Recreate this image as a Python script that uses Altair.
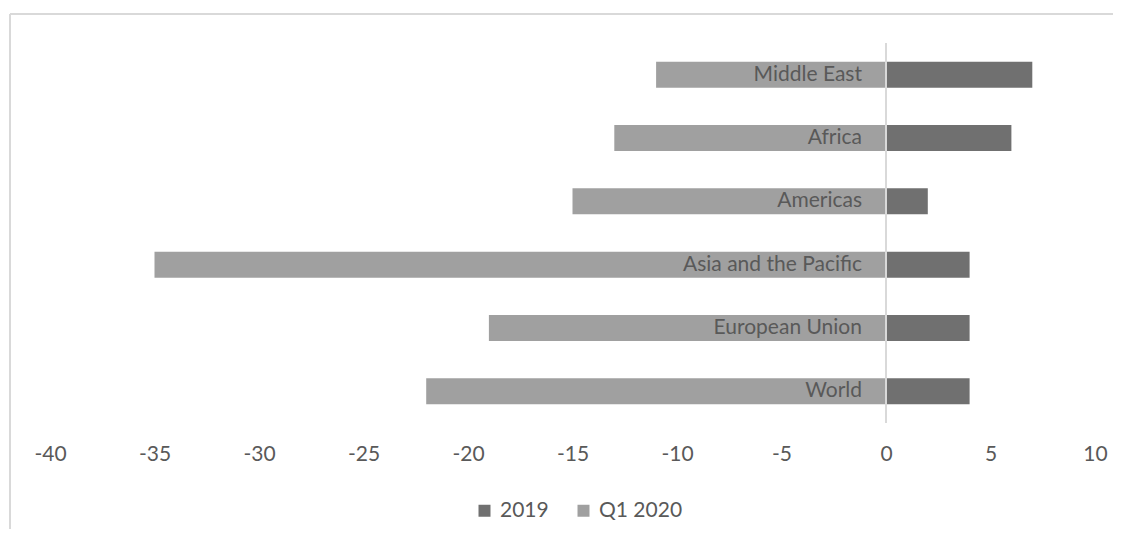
import altair as alt
import pandas as pd

categories = ["Middle East", "Africa", "Americas", "Asia and the Pacific", "European Union", "World"]
series_names = ["2019", "Q1 2020"]
values_2019 = [7, 6, 2, 4, 4, 4]
values_q1_2020 = [-11, -13, -15, -35, -19, -22]
tick_values = [-40, -35, -30, -25, -20, -15, -10, -5, 0, 5, 10]

rows = []
for c, v in zip(categories, values_2019):
    rows.append({"region": c, "series": "2019", "value": v})
for c, v in zip(categories, values_q1_2020):
    rows.append({"region": c, "series": "Q1 2020", "value": v})
df = pd.DataFrame(rows)
labels_df = pd.DataFrame({"region": categories})

FONT = "Lato"
TXT = "#595959"
FS = 21

xscale = alt.Scale(domain=[-40, 10], nice=False, zero=False)
yscale = alt.Scale(domain=categories, paddingInner=0, paddingOuter=0)

bars = alt.Chart(df).mark_bar(size=26).encode(
    x=alt.X("value:Q", scale=xscale,
            axis=alt.Axis(values=tick_values, title=None, grid=False, domain=False,
                          ticks=False, tickSize=0, labelFontSize=FS, labelFont=FONT,
                          labelColor=TXT, labelPadding=20, labelFlush=False,
                          labelExpr="'' + datum.value")),
    y=alt.Y("region:N", scale=yscale, sort=categories, axis=None),
    color=alt.Color("series:N",
                    scale=alt.Scale(domain=series_names, range=["#707070", "#a0a0a0"]),
                    legend=alt.Legend(title=None, orient="none", direction="horizontal",
                                      legendX=424, legendY=457, padding=0,
                                      symbolType="square", symbolSize=144,
                                      symbolStrokeWidth=0, labelFontSize=FS,
                                      labelFont=FONT, labelColor=TXT, labelOffset=5,
                                      columnPadding=24)),
)

zero_line = alt.Chart(pd.DataFrame({"z": [0]})).mark_rule(color="#d9d9d9", strokeWidth=2).encode(
    x=alt.X("z:Q", scale=xscale),
    y=alt.value(0),
    y2=alt.value(380),
)

texts = alt.Chart(labels_df).mark_text(align="right", baseline="middle", dx=-24,
                                        fontSize=FS, font=FONT, color=TXT).encode(
    x=alt.datum(0, scale=xscale),
    y=alt.Y("region:N", scale=yscale, sort=categories, axis=None),
    text="region:N",
)

frame_df = pd.DataFrame({"k": [0]})
top_border = alt.Chart(frame_df).mark_rule(color="#d9d9d9", strokeWidth=2).encode(
    x=alt.value(-40), x2=alt.value(1070), y=alt.value(-29))
left_border = alt.Chart(frame_df).mark_rule(color="#d9d9d9", strokeWidth=2).encode(
    x=alt.value(-40), y=alt.value(-29), y2=alt.value(490))

chart = alt.layer(top_border, left_border, bars, zero_line, texts).properties(
    width=1045, height=380,
    autosize=alt.AutoSizeParams(type="none"),
    padding={"left": 42, "top": 35, "right": 18, "bottom": 106},
    background="white",
).configure_view(stroke=None)

chart.save("out.html", embed_options={"renderer": "svg", "actions": False})
